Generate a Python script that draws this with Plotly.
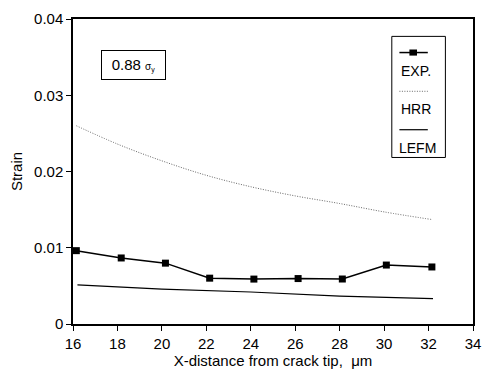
import plotly.graph_objects as go

# Data
exp_x = [16.15, 18.17, 20.16, 22.15, 24.14, 26.13, 28.12, 30.1, 32.15]
exp_y = [0.00962, 0.00866, 0.00798, 0.00601, 0.00589, 0.00596, 0.0059, 0.00773, 0.00748]

hrr_x = [16.15, 18.0, 20.0, 22.0, 24.0, 26.0, 28.0, 30.0, 32.15]
hrr_y = [0.0260, 0.0236, 0.0214, 0.0195, 0.0180, 0.0168, 0.0158, 0.0147, 0.0137]

lefm_x = [16.2, 20.0, 24.0, 28.0, 32.2]
lefm_y = [0.00513, 0.00458, 0.0042, 0.00366, 0.00332]

x_ticks = [16, 18, 20, 22, 24, 26, 28, 30, 32, 34]
y_ticks = [0, 0.01, 0.02, 0.03, 0.04]
y_tick_labels = ["0", "0.01", "0.02", "0.03", "0.04"]

FONT = "Liberation Sans, Arial, sans-serif"

fig = go.Figure()
fig.add_trace(go.Scatter(x=hrr_x, y=hrr_y, mode="lines", name="HRR",
                         line=dict(color="#666", width=1, dash="1px,1.5px"), line_shape="spline"))
fig.add_trace(go.Scatter(x=lefm_x, y=lefm_y, mode="lines", name="LEFM",
                         line=dict(color="black", width=1.2)))
fig.add_trace(go.Scatter(x=exp_x, y=exp_y, mode="lines+markers", name="EXP.",
                         line=dict(color="black", width=1.5),
                         marker=dict(symbol="square", size=7, color="black")))

# Custom legend box (symbol stacked above label, like the original)
shapes = [
    dict(type="rect", xref="paper", yref="paper", x0=0.797, x1=0.931, y0=0.546, y1=0.943,
         line=dict(color="black", width=1), fillcolor="white", layer="above"),
    dict(type="line", xref="paper", yref="paper", x0=0.816, x1=0.887, y0=0.890, y1=0.890,
         line=dict(color="black", width=1.5)),
    dict(type="rect", xref="paper", yref="paper", x0=0.841, x1=0.860, y0=0.880, y1=0.900,
         line=dict(color="black", width=0), fillcolor="black"),
    dict(type="line", xref="paper", yref="paper", x0=0.816, x1=0.887, y0=0.763, y1=0.763,
         line=dict(color="#666", width=1, dash="1px,1.5px")),
    dict(type="line", xref="paper", yref="paper", x0=0.816, x1=0.887, y0=0.637, y1=0.637,
         line=dict(color="black", width=1.2)),
]
annotations = [
    dict(text="EXP.", xref="paper", yref="paper", x=0.814, y=0.830, xanchor="left",
         yanchor="middle", showarrow=False, font=dict(size=14, color="black", family=FONT)),
    dict(text="HRR", xref="paper", yref="paper", x=0.814, y=0.705, xanchor="left",
         yanchor="middle", showarrow=False, font=dict(size=14, color="black", family=FONT)),
    dict(text="LEFM", xref="paper", yref="paper", x=0.811, y=0.576, xanchor="left",
         yanchor="middle", showarrow=False, font=dict(size=14, color="black", family=FONT)),
    dict(text="0.88 <span style='font-size:10px'>σ<sub>y</sub></span>", xref="paper", yref="paper",
         x=0.151, y=0.849, xanchor="center", yanchor="middle", showarrow=False,
         font=dict(size=15, color="black", family=FONT), align="center",
         bordercolor="black", borderwidth=1, borderpad=4, bgcolor="white", width=55, height=20),
]

fig.update_layout(
    width=491, height=372,
    margin=dict(l=73, r=10, t=11, b=44),
    plot_bgcolor="white", paper_bgcolor="white",
    showlegend=False,
    font=dict(family=FONT, size=14, color="black"),
    shapes=shapes, annotations=annotations,
)
fig.update_xaxes(range=[16, 34], tickvals=x_ticks, ticks="outside", ticklen=5,
                 tickcolor="black", showgrid=False, zeroline=False,
                 showline=True, linecolor="black", linewidth=1.5, mirror=True,
                 tickfont=dict(size=15, family=FONT),
                 title=dict(text="X-distance from crack tip,  μm", font=dict(size=15, family=FONT),
                            standoff=0))
fig.update_yaxes(range=[0, 0.04], tickvals=y_ticks, ticktext=y_tick_labels, ticks="outside",
                 ticklen=5, tickcolor="black", showgrid=False, zeroline=False,
                 showline=True, linecolor="black", linewidth=1.5, mirror=True,
                 tickfont=dict(size=15, family=FONT),
                 title=dict(text="Strain", font=dict(size=15, family=FONT), standoff=8))

fig.write_html("out.html")
